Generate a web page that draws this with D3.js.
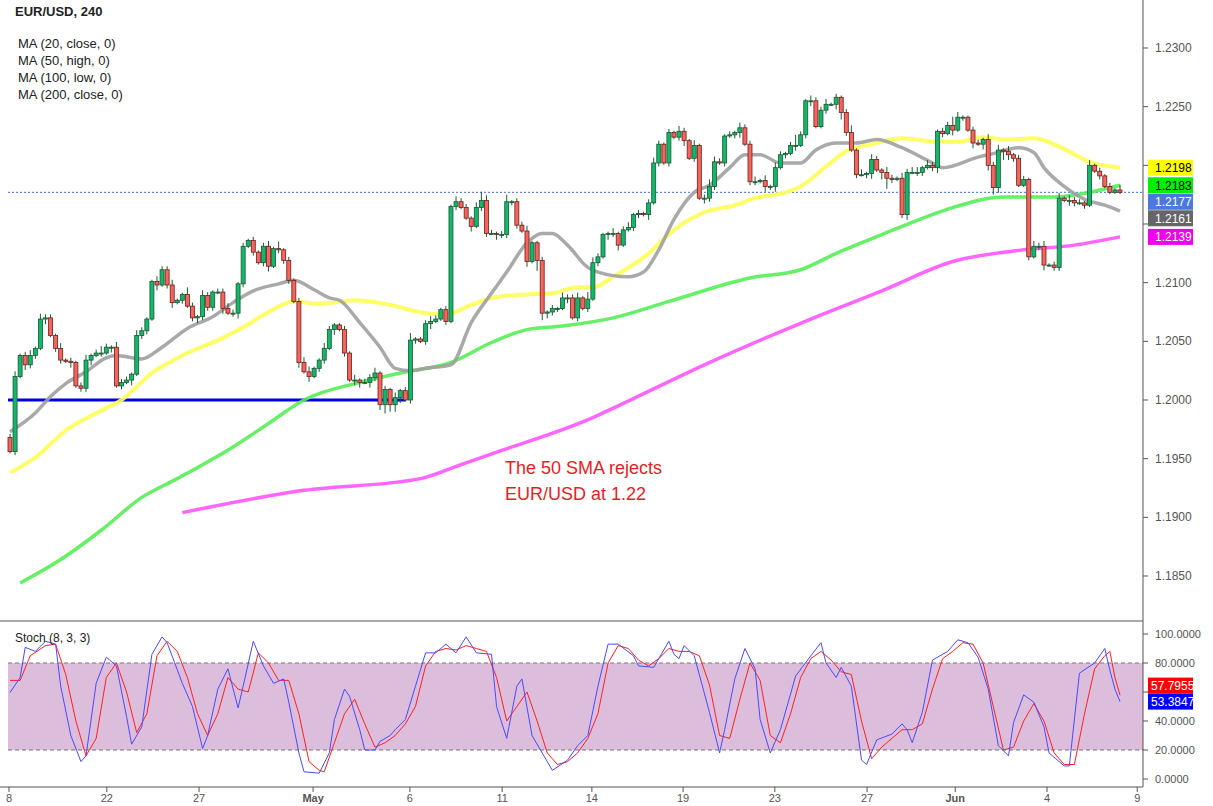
<!DOCTYPE html>
<html>
<head>
<meta charset="utf-8">
<script src="https://cdn.jsdelivr.net/npm/d3@7"></script>
<style>
  body { margin: 0; background: #fff; }
  svg text { font-family: "Liberation Sans", Arial, sans-serif; }
</style>
</head>
<body>
<svg id="chart" width="1213" height="806"></svg>
<script>
// ---- data ----
const firstOpen = 1.1968;
const closes = [
  1.1956,1.2020,1.2038,1.2030,1.2038,1.2044,1.2069,1.2070,1.2055,1.2044,
  1.2034,1.2033,1.2032,1.2012,1.2010,1.2034,1.2038,1.2040,1.2040,1.2045,
  1.2045,1.2012,1.2015,1.2017,1.2022,1.2055,1.2059,1.2069,1.2101,1.2098,
  1.2111,1.2098,1.2083,1.2085,1.2090,1.2080,1.2070,1.2071,1.2089,1.2079,
  1.2092,1.2092,1.2078,1.2074,1.2074,1.2099,1.2131,1.2136,1.2126,1.2117,
  1.2131,1.2114,1.2129,1.2128,1.2119,1.2102,1.2084,1.2032,
  1.2024,1.2020,1.2027,1.2034,1.2044,1.2060,1.2064,1.2060,1.2040,1.2017,
  1.2017,1.2015,1.2015,1.2019,1.2023,1.1996,1.2009,1.1996,1.2002,1.2008,
  1.2000,1.2051,1.2052,1.2050,1.2065,1.2067,1.2069,1.2077,1.2067,1.2165,
  1.2169,1.2164,1.2155,1.2148,1.2164,1.2170,1.2142,1.2142,1.2141,1.2141,
  1.2169,1.2169,1.2149,1.2144,1.2118,1.2134,1.2119,1.2074,1.2075,1.2078,
  1.2078,1.2087,1.2087,1.2070,1.2087,1.2078,1.2086,1.2117,1.2122,1.2141,1.2142,
  1.2142,1.2132,1.2145,1.2147,1.2158,1.2159,1.2158,1.2168,1.2202,1.2218,
  1.2202,1.2228,1.2224,1.2229,1.2221,1.2206,1.2217,1.2172,1.2172,1.2182,
  1.2203,1.2202,1.2225,1.2226,1.2228,1.2232,1.2218,1.2186,1.2186,1.2187,
  1.2182,1.2182,1.2198,1.2209,1.2210,1.2217,1.2217,1.2226,1.2255,1.2255,
  1.2233,1.2247,1.2252,1.2252,1.2258,1.2245,1.2228,1.2213,1.2192,1.2192,
  1.2193,1.2205,1.2196,
  1.2194,1.2189,1.2188,1.2189,1.2158,1.2194,1.2194,1.2194,1.2198,1.2200,
  1.2198,1.2229,1.2227,1.2234,1.2230,1.2241,1.2241,1.2230,1.2219,1.2218,
  1.2222,1.2200,1.2181,1.2213,1.2212,1.2209,1.2206,1.2183,1.2188,1.2122,
  1.2131,1.2131,1.2115,1.2115,1.2113,1.2172,1.2170,1.2170,1.2168,1.2168,
  1.2166,1.2200,1.2195,1.2191,1.2182,1.2177,1.2179,1.2177
];
// wick lengths beyond the body, in 1.5-pip steps
const upperWicks = "2312313221312123124213221321132231142132122321212123141212331132112131223121312411232121322135321241223112121322314321131231212321213213124321213223131321262132231212413132132132331321225311221323131221323123132213121213";
const lowerWicks = "1213221312213122312131213122131231212322213123212123122213131221312133132354431221231121211312213222213164322131212121323112213121212312132212123122132312131231121342121231462123122123213121313343532112123122132121121";

// moving averages: [bar index, price]
const ma20 = [[0,1.1973],[5,1.1989],[8,1.2003],[11,1.2014],[15,1.2024],[19,1.2036],[21,1.2038],[26,1.2035],[30,1.2045],[35,1.2061],[40,1.2071],[44,1.2083],[48,1.2093],[53,1.2099],[56,1.2102],[60,1.2094],[63,1.2087],[65,1.2085],[69,1.2066],[73,1.2045],[76,1.2027],[79,1.2025],[82,1.2027],[87,1.2030],[91,1.2066],[95,1.2091],[98,1.2109],[102,1.2134],[105,1.2142],[107,1.2142],[110,1.2132],[114,1.2113],[116,1.2109],[122,1.2105],[125,1.2109],[128,1.2128],[131,1.2154],[135,1.2177],[138,1.2183],[142,1.2198],[145,1.2209],[148,1.2209],[152,1.2202],[156,1.2202],[159,1.2213],[163,1.2219],[167,1.2219],[171,1.2222],[176,1.2215],[182,1.2202],[184,1.2198],[191,1.2207],[194,1.2210],[199,1.2215],[202,1.2211],[204,1.2198],[208,1.2182],[212,1.2171],[216,1.2166],[219,1.2161]];
const ma50 = [[0,1.1938],[5,1.1951],[11,1.1974],[18,1.1991],[22,1.2000],[28,1.2023],[34,1.2038],[41,1.2051],[46,1.2062],[51,1.2075],[56,1.2084],[61,1.2082],[68,1.2085],[74,1.2082],[82,1.2074],[86,1.2073],[91,1.2081],[95,1.2087],[102,1.2090],[107,1.2091],[112,1.2096],[115,1.2096],[119,1.2105],[126,1.2125],[131,1.2145],[137,1.2160],[143,1.2166],[147,1.2172],[153,1.2177],[156,1.2182],[161,1.2199],[165,1.2212],[170,1.2218],[176,1.2223],[183,1.2220],[187,1.2220],[192,1.2224],[196,1.2222],[202,1.2223],[207,1.2216],[213,1.2203],[219,1.2198]];
const ma100 = [[2,1.1844],[10,1.1864],[18,1.1889],[26,1.1917],[33,1.1933],[44,1.1960],[51,1.1980],[58,1.2000],[69,1.2015],[77,1.2023],[87,1.2032],[95,1.2049],[102,1.2060],[109,1.2063],[119,1.2070],[130,1.2084],[146,1.2104],[156,1.2111],[163,1.2125],[172,1.2141],[176,1.2148],[186,1.2164],[196,1.2173],[206,1.2173],[213,1.2177],[219,1.2183]];
const ma200 = [[34,1.1904],[58,1.1923],[81,1.1933],[89,1.1945],[97,1.1957],[115,1.1985],[119,1.1993],[137,1.2030],[158,1.2069],[172,1.2093],[186,1.2118],[200,1.2128],[210,1.2132],[219,1.2139]];

// stochastic %K (blue) and %D (red): [bar index, value]
const stochK = [[0,59.6],[2,70],[3,90.8],[5,88],[7,95],[9,93],[10,64],[12,30],[14,12],[15,16],[17,66],[19,84],[21,78],[23,43],[24,24],[26,36],[28,86],[30,98],[31,94],[34,66],[36,50],[38,21],[39,30],[41,62],[43,76],[45,49],[46,64],[48,95],[50,78],[52,66],[54,69],[55,53],[57,18],[58,5],[61,4],[63,18],[64,41],[66,62],[67,57],[69,34],[70,20],[72,20],[73,26],[75,30],[76,34],[78,41],[80,64],[82,87],[84,87],[86,93],[88,87],[90,98],[92,87],[95,86],[96,50],[98,28],[100,64],[101,69],[103,30],[106,12],[107,6],[110,13],[112,23],[114,30],[116,64],[118,93],[120,93],[123,85],[124,78],[127,77],[130,95],[131,86],[132,83],[133,92],[135,85],[138,46],[140,18],[141,34],[143,69],[145,90],[147,76],[148,41],[150,18],[152,34],[155,71],[158,85],[160,94],[161,80],[163,70],[164,77],[166,64],[168,13],[169,10],[171,27],[174,31],[176,38],[177,34],[178,25],[180,46],[182,82],[185,88],[187,96],[189,94],[191,84],[193,62],[195,23],[197,16],[198,39],[200,58],[202,53],[204,36],[205,18],[208,9],[209,9],[211,73],[214,80],[216,90],[217,75],[218,62],[219,53.3847]];
const stochD = [[0,68],[2,68],[4,85],[7,92],[9,93],[11,72],[13,40],[15,16],[17,28],[19,70],[21,80],[23,60],[25,32],[27,45],[29,85],[31,95],[33,88],[35,70],[37,45],[39,30],[41,45],[43,70],[45,62],[47,60],[49,87],[51,80],[53,68],[55,68],[57,45],[59,12],[61,6],[62,5],[64,25],[66,45],[68,55],[70,38],[72,22],[74,25],[76,30],[78,38],[80,50],[82,78],[84,88],[86,90],[88,89],[90,92],[92,90],[94,88],[96,70],[98,40],[100,50],[102,60],[104,40],[106,18],[108,10],[110,12],[112,18],[114,28],[116,45],[118,80],[120,92],[122,90],[124,82],[126,78],[128,83],[130,90],[132,88],[134,88],[136,85],[138,65],[140,30],[142,28],[144,55],[146,80],[148,68],[150,30],[152,25],[154,45],[156,70],[158,83],[160,88],[162,82],[164,74],[166,72],[168,40],[170,14],[172,22],[174,28],[176,34],[178,34],[180,38],[182,62],[184,83],[186,88],[188,94],[190,93],[192,80],[194,50],[196,20],[198,22],[200,40],[202,52],[204,40],[206,18],[208,10],[210,10],[212,45],[214,76],[216,85],[217,88],[218,70],[219,57.7955]];

const dateTicks = [[-0.2,"8"],[19.1,"22"],[37.3,"27"],[59.8,"May"],[78.9,"6"],[97.1,"11"],[114.8,"14"],[132.8,"19"],[150.9,"23"],[169.1,"27"],[186.5,"Jun"],[204.6,"4"],[222.4,"9"]];
const priceTicks = [1.1850,1.1900,1.1950,1.2000,1.2050,1.2100,1.2150,1.2200,1.2250,1.2300];
const stochTicks = [0,20,40,60,80,100];
const maLegend = ["MA (20, close, 0)","MA (50, high, 0)","MA (100, low, 0)","MA (200, close, 0)"];
const supportLevel = 1.2000, supportEnd = 78;
const lastPrice = 1.2177;
const priceTags = [[1.2198,"#ffff00","#000"],[1.2183,"#00ee00","#000"],[1.2177,"#4a78e0","#fff"],[1.2161,"#666666","#fff"],[1.2139,"#ee00ee","#fff"]];
const stochTags = [[57.7955,"#ff0000","#fff"],[53.3847,"#0000ff","#fff"]];

// ---- chart ----
const svg = d3.select('#chart');
const axisX = 1143, plotLeft = 8;

const x = d3.scaleLinear().domain([0, 219]).range([10, 1120]);
const y = d3.scaleLinear().domain([1.18125, 1.23409]).range([620, 0]);
const ys = d3.scaleLinear().domain([0, 100]).range([779, 634]);

const bars = closes.map((c, i) => {
  const o = i === 0 ? firstOpen : closes[i - 1];
  const up = +(upperWicks[i] || 1) * 0.00015;
  const lo = +(lowerWicks[i] || 1) * 0.00015;
  return { i, o, c, h: Math.max(o, c) + up, l: Math.min(o, c) - lo };
});

// stoch band
svg.append('rect').attr('x', plotLeft).attr('width', axisX - plotLeft)
  .attr('y', ys(80)).attr('height', ys(20) - ys(80)).attr('fill', '#dcbddc');
[80, 20].forEach(v => svg.append('line')
  .attr('x1', plotLeft).attr('x2', axisX).attr('y1', ys(v)).attr('y2', ys(v))
  .attr('stroke', '#777').attr('stroke-dasharray', '4,3'));

// support line
svg.append('line').attr('x1', plotLeft).attr('x2', x(supportEnd))
  .attr('y1', y(supportLevel)).attr('y2', y(supportLevel))
  .attr('stroke', '#0000e6').attr('stroke-width', 3);

// current price dotted line
svg.append('line').attr('x1', plotLeft).attr('x2', axisX)
  .attr('y1', y(lastPrice)).attr('y2', y(lastPrice))
  .attr('stroke', '#3d6ee0').attr('stroke-dasharray', '2,2');

// moving averages
const maLine = d3.line().x(d => x(d[0])).y(d => y(d[1])).curve(d3.curveMonotoneX);
[[ma200, '#ff55ff', 3.5], [ma100, '#55ee55', 3.5], [ma50, '#ffff55', 4], [ma20, '#a0a0a0', 3.5]]
  .forEach(([d, col, w]) => svg.append('path').datum(d).attr('d', maLine)
    .attr('fill', 'none').attr('stroke', col).attr('stroke-width', w)
    .attr('stroke-opacity', 0.9));

// candles
const bw = 4;
const cg = svg.append('g');
cg.selectAll('line.wick').data(bars).join('line')
  .attr('x1', d => x(d.i)).attr('x2', d => x(d.i))
  .attr('y1', d => y(d.h)).attr('y2', d => y(d.l))
  .attr('stroke', '#1c5a32').attr('stroke-width', 1);
cg.selectAll('rect').data(bars).join('rect')
  .attr('x', d => x(d.i) - bw / 2).attr('width', bw)
  .attr('y', d => y(Math.max(d.o, d.c)))
  .attr('height', d => Math.max(1, Math.abs(y(d.o) - y(d.c))))
  .attr('fill', d => d.c >= d.o ? '#12b86a' : '#f4665c')
  .attr('stroke', d => d.c >= d.o ? '#1b5633' : '#6e1c1c').attr('stroke-width', 0.8);

// stoch lines
const sLine = d3.line().x(d => x(d[0])).y(d => ys(d[1]));
svg.append('path').datum(stochD).attr('d', sLine).attr('fill', 'none').attr('stroke', '#ff2020').attr('stroke-width', 1);
svg.append('path').datum(stochK).attr('d', sLine).attr('fill', 'none').attr('stroke', '#4a4aff').attr('stroke-width', 1);

// frame
svg.append('line').attr('x1', axisX).attr('x2', axisX).attr('y1', 0).attr('y2', 787).attr('stroke', '#555');
svg.append('line').attr('x1', 0).attr('x2', axisX).attr('y1', 621).attr('y2', 621).attr('stroke', '#555');
svg.append('line').attr('x1', 0).attr('x2', axisX).attr('y1', 787).attr('y2', 787).attr('stroke', '#555');

// value tags, stacked so they do not cover each other
function stackDown(list, scale, h) {
  let prev = -Infinity;
  return list.map(([v, bg, fg]) => {
    const cy = Math.max(scale(v), prev + h);
    prev = cy;
    return { v, bg, fg, cy };
  });
}
function stackUp(list, scale, h) {
  let next = Infinity;
  return list.slice().reverse().map(([v, bg, fg]) => {
    const cy = Math.min(scale(v), next - h);
    next = cy;
    return { v, bg, fg, cy };
  }).reverse();
}
const pTags = stackDown(priceTags, y, 16.5);
const sTags = stackUp(stochTags, ys, 16);
const hidden = (yy, tags) => tags.some(t => Math.abs(t.cy - yy) < 14);

// axes (tick labels that sit under a tag are left out, as in the original)
const pa = svg.append('g');
priceTicks.forEach(p => {
  pa.append('line').attr('x1', axisX).attr('x2', axisX + 5).attr('y1', y(p)).attr('y2', y(p)).attr('stroke', '#555');
  if (!hidden(y(p), pTags))
    pa.append('text').attr('x', axisX + 12).attr('y', y(p) + 4).attr('font-size', 12).attr('fill', '#555')
      .text(d3.format('.4f')(p));
});
stochTicks.forEach(v => {
  pa.append('line').attr('x1', axisX).attr('x2', axisX + 5).attr('y1', ys(v)).attr('y2', ys(v)).attr('stroke', '#555');
  if (!hidden(ys(v), sTags))
    pa.append('text').attr('x', axisX + 12).attr('y', ys(v) + 4).attr('font-size', 11).attr('fill', '#555')
      .text(d3.format('.4f')(v));
});
pTags.forEach(t => {
  pa.append('rect').attr('x', axisX + 5).attr('y', t.cy - 8).attr('width', 45).attr('height', 16).attr('fill', t.bg);
  pa.append('text').attr('x', axisX + 12).attr('y', t.cy + 4.5).attr('font-size', 12).attr('fill', t.fg).text(t.v.toFixed(4));
});
sTags.forEach(t => {
  pa.append('rect').attr('x', axisX + 5).attr('y', t.cy - 8).attr('width', 45).attr('height', 16).attr('fill', t.bg);
  pa.append('text').attr('x', axisX + 8).attr('y', t.cy + 4.5).attr('font-size', 12).attr('fill', t.fg).text(t.v.toFixed(4));
});

// date axis
dateTicks.forEach(([i, t]) => {
  svg.append('line').attr('x1', x(i)).attr('x2', x(i)).attr('y1', 787).attr('y2', 792).attr('stroke', '#555');
  svg.append('text').attr('x', x(i)).attr('y', 802).attr('text-anchor', 'middle')
    .attr('font-size', 11).attr('fill', '#555')
    .attr('font-weight', (t === 'May' || t === 'Jun') ? 'bold' : 'normal').text(t);
});

// texts
svg.append('text').attr('x', 15).attr('y', 16).attr('font-size', 13).attr('font-weight', 'bold').attr('fill', '#222').text('EUR/USD, 240');
maLegend.forEach((t, k) => svg.append('text').attr('x', 18).attr('y', 48 + k * 17)
  .attr('font-size', 13).attr('fill', '#222').text(t));
svg.append('text').attr('x', 15).attr('y', 642).attr('font-size', 12).attr('fill', '#222').text('Stoch (8, 3, 3)');
svg.append('text').attr('x', 505).attr('y', 474).attr('font-size', 18).attr('fill', '#e41e26').text('The 50 SMA rejects');
svg.append('text').attr('x', 505).attr('y', 500).attr('font-size', 18).attr('fill', '#e41e26').text('EUR/USD at 1.22');
</script>
</body>
</html>
